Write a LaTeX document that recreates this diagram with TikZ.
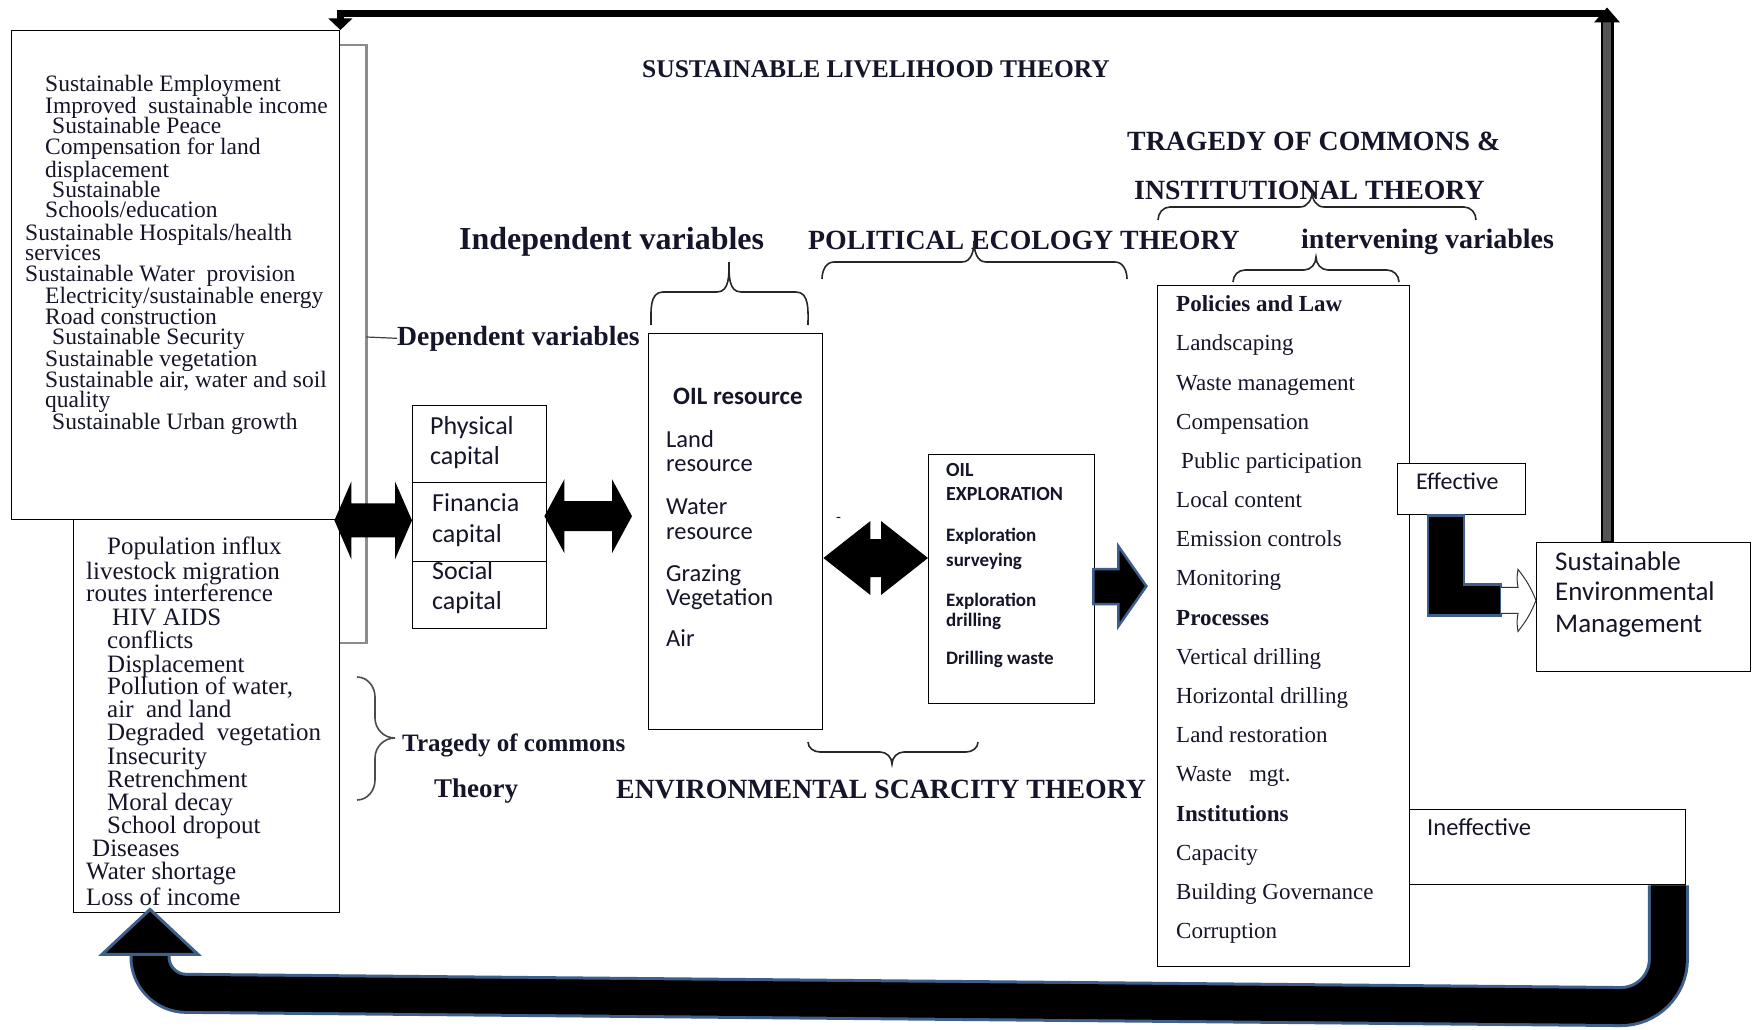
\documentclass[tikz,border=0pt]{standalone}
\usepackage{fontspec}
\setmainfont{Liberation Serif}
\newfontfamily\calib{Carlito}
\usetikzlibrary{calc}

\definecolor{ink}{HTML}{15152A}
\definecolor{edgeblue}{HTML}{3E5F8A}
\definecolor{bargrey}{HTML}{555555}
\definecolor{brgrey}{HTML}{8C8C8C}

\tikzset{
  box/.style={draw=black, line width=1.4, inner sep=0, anchor=north west},
  ser/.style={font={\fontsize{#1}{#1}\selectfont}, inner sep=0, anchor=base west, text=ink},
  serb/.style={font={\fontsize{#1}{#1}\selectfont\bfseries}, inner sep=0, anchor=base west, text=ink},
  sans/.style={font={\calib\fontsize{#1}{#1}\selectfont}, inner sep=0, anchor=base west, text=ink},
  sansb/.style={font={\calib\fontsize{#1}{#1}\selectfont\bfseries}, inner sep=0, anchor=base west, text=ink},
  bracestyle/.style={draw=black!85, line width=1.6},
  gbr/.style={draw=brgrey, line width=2.2},
}

% horizontal double-headed block arrow between two tip coordinates
% #1 left tip, #2 right tip, #3 shaft half width, #4 head half width, #5 head length
\newcommand\blockdbl[5]{%
  \fill[black] let \p1=(#1), \p2=(#2) in
    (\x1,\y1) -- (\x1+#5,\y1+#4) -- (\x1+#5,\y1+#3) -- (\x2-#5,\y1+#3)
    -- (\x2-#5,\y1+#4) -- (\x2,\y1) -- (\x2-#5,\y1-#4) -- (\x2-#5,\y1-#3)
    -- (\x1+#5,\y1-#3) -- (\x1+#5,\y1-#4) -- cycle;}

% brace with its tip upwards: x1, x2, xmid, y of bar, y of ends, y of tip
\newcommand\upbrace[6]{%
  \draw[bracestyle] (#1,#5) to[out=90,in=180] (#1+12,#4) -- (#3-12,#4)
    to[out=0,in=-90] (#3,#6) to[out=-90,in=180] (#3+12,#4) -- (#2-12,#4)
    to[out=0,in=90] (#2,#5);}
% brace with its tip downwards
\newcommand\downbrace[6]{%
  \draw[bracestyle] (#1,#5) to[out=-90,in=180] (#1+12,#4) -- (#3-12,#4)
    to[out=0,in=90] (#3,#6) to[out=90,in=180] (#3+12,#4) -- (#2-12,#4)
    to[out=0,in=-90] (#2,#5);}

\begin{document}
\begin{tikzpicture}[x=1pt,y=-1pt]
\useasboundingbox (0,0) rectangle (1759,1030);
\fill[white] (0,0) rectangle (1759,1030);

% ---------- boxes ----------
\node[box, minimum width=328, minimum height=489] (ub) at (11,30) {};
\node[box, minimum width=266, minimum height=393] (lb) at (73,519) {};
\node[box, minimum width=134, minimum height=77] (cap1) at (412,405) {};
\node[box, minimum width=134, minimum height=79] (cap2) at (412,482) {};
\node[box, minimum width=134, minimum height=67] (cap3) at (412,561) {};
\node[box, minimum width=174, minimum height=396] (oil) at (648,333) {};
\node[box, minimum width=166, minimum height=249] (expl) at (928,454) {};
\node[box, minimum width=252, minimum height=681] (pol) at (1157,285) {};
\node[box, fill=white, minimum width=128, minimum height=51] (eff) at (1397,463) {};
\node[box, minimum width=276, minimum height=75] (ineff) at (1409,809) {};
\node[box, minimum width=214, minimum height=129] (sem) at (1536,542) {};

% ---------- outcome lists ----------
\foreach \xx/\yy/\txt [count=\i] in {
  45/92/Sustainable Employment,
  45/114/{Improved~ sustainable income},
  52/134/Sustainable Peace,
  45/155/Compensation for land,
  45/177/displacement,
  52/197/Sustainable,
  45/217/{Schools/education},
  25/240/{Sustainable Hospitals/health},
  25/260/services,
  25/281/{Sustainable Water~ provision},
  45/303/{Electricity/sustainable energy},
  45/324/Road construction,
  52/344/Sustainable Security,
  45/366/Sustainable vegetation,
  45/387/{Sustainable air, water and soil},
  45/407/quality,
  52/429/Sustainable Urban growth}
  \node[ser=23.5] (up\i) at (\xx,\yy) {\txt};

\foreach \xx/\yy/\txt [count=\i] in {
  107/554/Population influx,
  86/579/livestock migration,
  86/601/routes interference,
  112/625/HIV AIDS,
  107/648/conflicts,
  107/672/Displacement,
  107/694/{Pollution of water,},
  107/717/{air~ and land},
  107/740/{Degraded~ vegetation},
  107/764/Insecurity,
  107/787/Retrenchment,
  107/810/Moral decay,
  107/833/School dropout,
  92/856/Diseases,
  86/879/Water shortage,
  86/905/Loss of income}
  \node[ser=25] (lo\i) at (\xx,\yy) {\txt};

% ---------- capitals ----------
\node[sans=26] (c1a) at (430,434) {Physical};
\node[sans=26] (c1b) at (430,464) {capital};
\node[sans=26] (c2a) at (432,511) {Financia};
\node[sans=26] (c2b) at (432,542) {capital};
\node[sans=26] (c3a) at (432,579) {Social};
\node[sans=26] (c3b) at (432,609) {capital};

% ---------- resources ----------
\node[sansb=25] (r0) at (673,404) {OIL resource};
\node[sans=24.5] (r1) at (666,447) {Land};
\node[sans=24.5] (r2) at (666,471) {resource};
\node[sans=24.5] (r3) at (666,514) {Water};
\node[sans=24.5] (r4) at (666,539) {resource};
\node[sans=24.5] (r5) at (666,581) {Grazing};
\node[sans=24.5] (r6) at (666,605) {Vegetation};
\node[sans=24.5] (r7) at (666,646) {Air};

% ---------- exploration ----------
\node[sansb=20] (e0) at (946,476) {OIL};
\node[sansb=20] (e1) at (946,500) {EXPLORATION};
\node[sansb=19] (e2) at (946,541) {Exploration};
\node[sansb=19] (e3) at (946,566) {surveying};
\node[sansb=19] (e4) at (946,606) {Exploration};
\node[sansb=19] (e5) at (946,626) {drilling};
\node[sansb=19] (e6) at (946,664) {Drilling waste};
\node[sans=16] (dash) at (836,522) {-};

% ---------- intervening variables ----------
\foreach \xx/\yy/\txt [count=\i] in {
  1176/311/\textbf{Policies and Law},
  1176/350/Landscaping,
  1176/390/Waste management,
  1176/429/Compensation,
  1181/468/Public participation,
  1176/507/Local content,
  1176/546/Emission controls,
  1176/585/Monitoring,
  1176/625/\textbf{Processes},
  1176/664/Vertical drilling,
  1176/703/Horizontal drilling,
  1176/742/Land restoration,
  1176/781/{Waste~~~mgt.},
  1176/821/\textbf{Institutions},
  1176/860/Capacity,
  1176/899/Building Governance,
  1176/938/Corruption}
  \node[ser=23] (p\i) at (\xx,\yy) {\txt};

\node[sans=24] (efft) at (1416,489) {Effective};
\node[sans=24.5] (ineft) at (1427,835) {Ineffective};
\node[sans=27] (s1) at (1555,570) {Sustainable};
\node[sans=27] (s2) at (1555,600) {Environmental};
\node[sans=27] (s3) at (1555,632) {Management};

% ---------- headings ----------
\node[serb=25.5] (slt) at (642,78) {SUSTAINABLE LIVELIHOOD THEORY};
\node[serb=27.8] (toc1) at (1127,150) {TRAGEDY OF COMMONS \&};
\node[serb=27.8] (toc2) at (1134,199) {INSTITUTIONAL THEORY};
\node[serb=32] (indep) at (459,249) {Independent variables};
\node[serb=27.8] (pet) at (808,249) {POLITICAL ECOLOGY THEORY};
\node[serb=28] (interv) at (1301,248) {intervening variables};
\node[serb=27.7] (dep) at (397,345) {Dependent variables};
\node[serb=25] (tocl) at (402,751) {Tragedy of commons};
\node[serb=27] (theory) at (434,797) {Theory};
\node[serb=27.8] (est) at (616,798) {ENVIRONMENTAL SCARCITY THEORY};

% ---------- braces ----------
\upbrace{651}{808}{729}{292}{325}{262}
\upbrace{822}{1127}{974}{262}{279}{241}
\upbrace{1158}{1476}{1312}{207}{220}{192}
\upbrace{1233}{1399}{1316}{270}{282}{257}
\downbrace{808}{978}{892}{752}{742}{764}
\draw[bracestyle, draw=black!70] (357,677) to[out=0,in=90] (375,697) -- (375,718)
  to[out=-90,in=180] (395,738) to[out=180,in=90] (375,758) -- (375,780)
  to[out=-90,in=0] (357,800);

% bracket gathering the outcomes as dependent variables
\draw[gbr] ($(ub.north east)+(0,15)$) -| ($(ub.north east)+(26,613)$) -- ($(ub.north east)+(0,613)$);
\draw[draw=black!75, line width=1.2] ($(ub.north east)+(26,307)$) -- (dep.west);

% ---------- block arrows ----------
\coordinate (d1a) at ($(ub.south east)+(-6,0)$);
\coordinate (d1b) at (cap2.west |- d1a);
\blockdbl{d1a}{d1b}{17}{39}{17}
\coordinate (d2a) at ($(cap2.east)+(-3,-6)$);
\coordinate (d2b) at ($(oil.west |- d2a)+(-16,0)$);
\blockdbl{d2a}{d2b}{15}{37}{20}
\coordinate (d3a) at (oil.east |- 0,558);
\coordinate (d3b) at (expl.west |- d3a);
\blockdbl{d3a}{d3b}{19}{37}{47}

% exploration feeding the intervening variables
\coordinate (x0) at ($(expl.east)+(-2,7)$);
\filldraw[fill=black, draw=edgeblue, line width=2.5, line join=miter]
  ($(x0)+(0,-17)$) -- ($(x0)+(25,-17)$) -- ($(x0)+(25,-40)$) -- ($(x0)+(53,0)$)
  -- ($(x0)+(25,40)$) -- ($(x0)+(25,18)$) -- ($(x0)+(0,18)$) -- cycle;

% effective path to sustainable management
\coordinate (L0) at ($(eff.south west)+(31,0)$);
\filldraw[fill=black, draw=edgeblue, line width=2.5]
  (L0) -- ($(L0)+(36,0)$) -- ($(L0)+(36,69)$) -- ($(L0)+(73,69)$)
  -- ($(L0)+(73,100)$) -- ($(L0)+(0,100)$) -- cycle;
\coordinate (w0) at ($(L0)+(73,85)$);
\draw[fill=white, draw=black!80, line width=1]
  ($(w0)+(0,-13)$) -- ($(w0)+(17,-13)$) to[bend left=10] ($(w0)+(17,-31)$)
  to[bend left=8] (sem.west |- w0) to[bend left=8] ($(w0)+(17,31)$)
  to[bend left=10] ($(w0)+(17,13)$) -- ($(w0)+(0,13)$);

% feedback from sustainable management to the outcomes
\coordinate (topy) at (0,13.5);
\coordinate (tr) at ($(sem.north west)+(71,0)$);
\coordinate (trt) at (tr |- topy);
\coordinate (tl) at (ub.north east |- topy);
\draw[line width=13, black] (tr) -- ($(trt)+(0,8)$);
\draw[line width=8.5, bargrey] ($(tr)+(0,-1.5)$) -- ($(trt)+(0,8)$);
\draw[line width=6.5, black] (trt) -- (tl) -- ($(tl)+(0,6)$);
\fill[black] ($(trt)+(-13,9)$) -- ($(trt)+(0,-6)$) -- ($(trt)+(13,9)$) -- cycle;
\fill[black] ($(tl)+(-12,5)$) -- (ub.north east) -- ($(tl)+(12,5)$) -- cycle;

% feedback from ineffective institutions to the problems
\coordinate (b0) at ($(ineff.south east)+(-18,0)$);
\coordinate (b1) at (b0 |- 0,1007);
\coordinate (tip) at ($(lb.south west)+(77,-4)$);
\coordinate (b2) at (tip |- 0,993);
\coordinate (hb) at ($(tip)+(0,45)$);
\draw[line width=41, edgeblue, rounded corners=48] (b0) -- (b1) [rounded corners=36] -- (b2) -- (hb);
\draw[line width=35, black, rounded corners=48] (b0) -- (b1) [rounded corners=36] -- (b2) -- (hb);
\filldraw[fill=black, draw=edgeblue, line width=3, line join=miter]
  ($(hb)+(-48,0)$) -- (tip) -- ($(hb)+(48,0)$) -- cycle;
\end{tikzpicture}
\end{document}
